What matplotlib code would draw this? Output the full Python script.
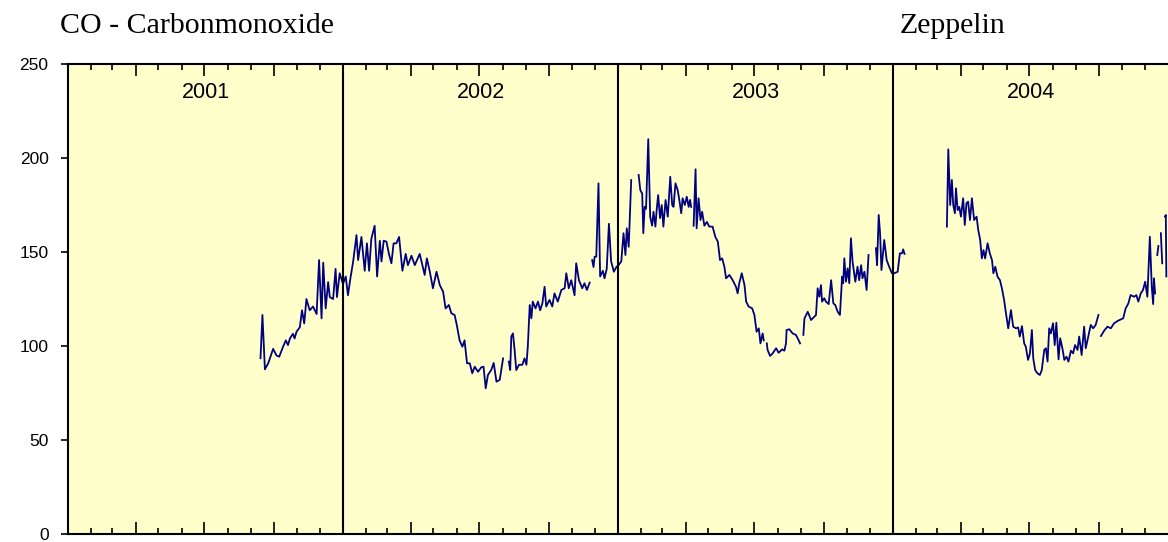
"""CO at Zeppelin, 2001-2004."""

import matplotlib.pyplot as plt
import numpy as np

nan = np.nan

# decimal year of each reading; nan marks a break in the record
t = [2001.700, 2001.707, 2001.716, 2001.728, 2001.740, 2001.746, 2001.758, 2001.768,
     2001.782, 2001.792, 2001.800, 2001.807, 2001.818, 2001.824,
     2001.831, 2001.843, 2001.851, 2001.859, 2001.867, 2001.879, 2001.891, 2001.904,
     2001.913, 2001.922, 2001.928, 2001.937, 2001.946, 2001.952, 2001.964, 2001.973,
     2001.978, 2001.988, 2002.000, 2002.010, 2002.018, 2002.028, 2002.037, 2002.049,
     2002.055, 2002.067, 2002.079, 2002.087, 2002.095, 2002.103, 2002.115, 2002.124,
     2002.134, 2002.140, 2002.148, 2002.158, 2002.167, 2002.176, 2002.184, 2002.194,
     2002.204, 2002.216, 2002.228, 2002.236, 2002.249, 2002.261, 2002.279,
     2002.297, 2002.305, 2002.315, 2002.327, 2002.340, 2002.352, 2002.364, 2002.373,
     2002.385, 2002.394, 2002.406, 2002.414, 2002.424, 2002.434, 2002.442, 2002.451,
     2002.461, 2002.470, 2002.479, 2002.491, 2002.503, 2002.511, 2002.519, 2002.527,
     2002.539, 2002.548, 2002.558, 2002.570, 2002.582,
     nan,
     2002.603, 2002.608, 2002.612, 2002.618, 2002.624, 2002.630, 2002.640, 2002.652,
     2002.660, 2002.667, 2002.672, 2002.679, 2002.685, 2002.690, 2002.700, 2002.709,
     2002.717, 2002.725, 2002.733, 2002.739, 2002.751, 2002.761, 2002.769, 2002.781,
     2002.794, 2002.806, 2002.812, 2002.821, 2002.830, 2002.842, 2002.848, 2002.858,
     2002.870, 2002.878, 2002.887, 2002.897,
     nan,
     2002.906, 2002.911, 2002.915, 2002.921, 2002.929, 2002.935, 2002.945, 2002.951,
     2002.959, 2002.967, 2002.975, 2002.985, 2002.994, 2003.002, 2003.012, 2003.020,
     2003.027, 2003.032, 2003.039, 2003.048,
     nan,
     2003.075, 2003.081, 2003.088, 2003.092, 2003.097, 2003.102, 2003.110, 2003.117,
     2003.124, 2003.129, 2003.136, 2003.141, 2003.146, 2003.153, 2003.159, 2003.165,
     2003.173, 2003.181, 2003.190, 2003.197, 2003.202, 2003.209, 2003.217, 2003.223,
     2003.230, 2003.235, 2003.243, 2003.250, 2003.257, 2003.262, 2003.266,
     nan,
     2003.275, 2003.282, 2003.286, 2003.293, 2003.300, 2003.306, 2003.314, 2003.323,
     2003.332, 2003.344, 2003.354, 2003.363, 2003.371, 2003.379, 2003.387, 2003.393,
     2003.405, 2003.417, 2003.429, 2003.435, 2003.441, 2003.450, 2003.460, 2003.466,
     2003.475, 2003.488, 2003.496, 2003.504, 2003.512, 2003.518, 2003.526, 2003.530,
     nan,
     2003.541, 2003.544, 2003.553, 2003.562, 2003.575, 2003.584, 2003.597, 2003.605,
     2003.611, 2003.613, 2003.623, 2003.635, 2003.647, 2003.657, 2003.662,
     nan,
     2003.674, 2003.678, 2003.690, 2003.702, 2003.714, 2003.720, 2003.726, 2003.732,
     2003.738, 2003.742, 2003.750, 2003.756, 2003.766, 2003.775, 2003.783, 2003.790,
     2003.799, 2003.807, 2003.815, 2003.819, 2003.823, 2003.829, 2003.835, 2003.841,
     2003.847, 2003.853, 2003.863, 2003.871, 2003.877, 2003.884, 2003.889, 2003.896,
     2003.904, 2003.911,
     nan,
     2003.938, 2003.942, 2003.948, 2003.953, 2003.958, 2003.968, 2003.977, 2003.986,
     2003.996, 2004.005, 2004.017, 2004.025, 2004.033, 2004.037, 2004.042,
     nan,
     2004.196, 2004.201, 2004.208, 2004.214, 2004.219, 2004.225, 2004.229, 2004.235,
     2004.241, 2004.247, 2004.255, 2004.261, 2004.267, 2004.273, 2004.280, 2004.287,
     2004.295, 2004.304, 2004.310, 2004.317, 2004.323, 2004.329, 2004.335, 2004.344,
     2004.352, 2004.360, 2004.365, 2004.372, 2004.380, 2004.389, 2004.396, 2004.404,
     2004.410, 2004.419, 2004.429, 2004.437, 2004.447, 2004.455, 2004.461, 2004.469,
     2004.477, 2004.483, 2004.491, 2004.498, 2004.505, 2004.510, 2004.517, 2004.525,
     2004.534, 2004.541, 2004.550, 2004.556, 2004.562, 2004.568, 2004.574, 2004.582,
     2004.588, 2004.594, 2004.602, 2004.608, 2004.616, 2004.623, 2004.631, 2004.638,
     2004.647, 2004.655, 2004.662, 2004.671, 2004.677, 2004.686, 2004.695, 2004.701,
     2004.710, 2004.719, 2004.728, 2004.737, 2004.747,
     nan,
     2004.756, 2004.768, 2004.780, 2004.792, 2004.804, 2004.819, 2004.837, 2004.846,
     2004.856, 2004.864, 2004.877, 2004.885, 2004.892, 2004.901, 2004.909, 2004.917,
     2004.925, 2004.934, 2004.941, 2004.946, 2004.949, 2004.953,
     nan,
     2004.961, 2004.965,
     nan,
     2004.974, 2004.979,
     nan,
     2004.989, 2004.992, 2004.994]

# CO mixing ratio (ppb)
co = [93.5, 116.5, 87.6, 90.8, 96.0, 98.5, 95.0, 94.3,
      99.6, 103.0, 100.5, 104.0, 106.5, 104.0,
      107.6, 110.0, 119.0, 112.0, 125.0, 119.0, 121.0, 117.0,
      145.7, 114.7, 144.3, 120.0, 134.0, 126.0, 125.0, 141.0,
      126.0, 138.7, 133.0, 137.0, 127.0, 137.0, 145.0, 159.0,
      145.7, 158.0, 140.0, 154.6, 140.0, 157.0, 164.0, 137.0,
      156.0, 145.0, 156.0, 155.5, 149.0, 144.0, 154.6, 154.6,
      158.0, 140.0, 149.0, 143.0, 148.0, 143.0, 149.0,
      137.8, 146.6, 140.0, 130.7, 139.5, 132.4, 128.9, 120.0,
      121.8, 117.4, 116.5, 111.0, 103.0, 99.6, 103.0, 90.8,
      90.8, 85.5, 89.0, 86.3, 88.7, 89.0, 77.5, 84.6,
      87.2, 91.0, 81.0, 82.0, 93.4,
      nan,
      91.7, 87.2, 105.0, 106.7, 97.9, 87.2, 90.0, 90.0,
      93.4, 90.0, 99.6, 121.8, 114.7, 123.6, 120.0, 123.6,
      119.0, 122.7, 131.5, 121.0, 124.5, 121.0, 128.0, 123.6,
      129.8, 130.7, 138.7, 130.7, 135.0, 127.0, 144.0, 135.0,
      130.7, 133.4, 129.8, 133.7,
      nan,
      145.7, 142.0, 147.5, 147.5, 186.5, 137.0, 140.0, 136.0,
      141.0, 165.0, 145.0, 139.5, 142.0, 143.0, 145.0, 160.0,
      148.4, 162.6, 152.8, 188.3,
      nan,
      191.0, 183.0, 181.0, 160.0, 174.0, 173.0, 210.0, 168.8,
      164.0, 171.4, 163.5, 173.0, 180.3, 168.0, 175.0, 163.5,
      177.7, 168.8, 190.0, 175.0, 174.0, 186.5, 183.0, 177.7,
      170.6, 178.6, 175.0, 179.4, 174.0, 177.7, 174.0,
      nan,
      164.0, 194.0, 162.6, 178.6, 167.0, 171.4, 164.0, 166.0,
      163.5, 163.5, 158.0, 155.5, 145.7, 146.6, 142.0, 136.0,
      137.8, 135.0, 131.5, 128.0, 133.4, 138.7, 132.4, 123.6,
      121.0, 120.0, 116.5, 107.6, 109.4, 101.4, 106.7, 103.0,
      nan,
      101.4, 97.9, 94.7, 96.0, 98.8, 96.4, 98.2, 97.5,
      101.4, 108.5, 108.9, 106.7, 105.9, 103.0, 101.4,
      nan,
      105.9, 114.7, 118.2, 113.8, 115.6, 116.5, 130.7, 126.2,
      132.4, 123.6, 125.4, 123.6, 122.3, 135.0, 122.7, 121.8,
      118.2, 116.5, 136.9, 133.4, 146.6, 134.2, 141.3, 133.4,
      157.3, 144.8, 134.2, 142.2, 135.0, 143.0, 136.0, 139.5,
      129.8, 148.4,
      nan,
      152.0, 143.0, 169.7, 160.0, 140.4, 156.4, 145.7, 142.2,
      138.7, 138.7, 139.5, 149.3, 149.3, 151.4, 149.0,
      nan,
      163.5, 204.6, 175.0, 188.3, 175.0, 170.6, 183.9, 172.3,
      174.0, 168.8, 178.6, 164.4, 175.9, 176.8, 167.0, 178.6,
      167.0, 168.8, 161.7, 156.4, 146.6, 151.0, 146.6, 154.6,
      149.3, 145.7, 138.7, 142.2, 136.9, 135.0, 130.7, 124.5,
      118.2, 109.4, 119.1, 110.3, 109.4, 109.9, 105.0, 110.6,
      101.4, 99.6, 92.6, 96.1, 108.5, 93.5, 87.2, 85.5,
      84.6, 87.2, 97.9, 98.8, 91.7, 109.4, 106.7, 112.1,
      100.5, 112.4, 92.9, 104.1, 98.8, 92.6, 94.3, 91.7,
      97.5, 96.1, 100.5, 97.9, 105.0, 95.2, 110.3, 98.8,
      105.0, 111.2, 109.4, 111.2, 116.5,
      nan,
      105.3, 108.2, 110.3, 109.4, 112.1, 113.5, 114.7, 120.0,
      122.7, 127.1, 126.2, 127.1, 123.6, 128.0, 129.8, 134.2,
      126.2, 158.1, 131.5, 122.3, 136.0, 128.0,
      nan,
      148.4, 153.2,
      nan,
      160.0, 144.0,
      nan,
      168.8, 169.7, 137.0]

years = [2001, 2002, 2003, 2004]
yticks = [0, 50, 100, 150, 200, 250]
month_start = [0, 31, 59, 90, 120, 151, 181, 212, 243, 273, 304, 334]

plt.rcParams['font.family'] = ['Liberation Sans', 'DejaVu Sans']

fig = plt.figure(figsize=(11.68, 5.42), dpi=100)
ax = fig.add_axes([68 / 1168, 8 / 542, 1100 / 1168, 470 / 542])
ax.set_facecolor('#FFFFCC')

ax.plot(t, co, color='#000080', lw=1.3)

for y in years[1:]:
    ax.axvline(y, color='black', lw=1.5)

for y in years:
    ax.text(y + 0.5, 0.928, str(y), transform=ax.get_xaxis_transform(),
            ha='center', va='baseline', fontsize=15.5)

ax.set_xlim(2001, 2005)
ax.set_ylim(0, 250)

# month ticks, longer at the quarters
minor = [y + d / 365 for y in years for d in month_start[1:]]
major = [y + d / 365 for y in years for d in (90, 181, 273)]
ax.set_xticks(major)
ax.set_xticks(minor, minor=True)
ax.tick_params(axis='x', which='both', direction='in', top=True, bottom=True,
               labelbottom=False, width=1.2, color='black')
ax.tick_params(axis='x', which='major', length=8.5)
ax.tick_params(axis='x', which='minor', length=4.3)

ax.set_yticks(yticks)
ax.tick_params(axis='y', direction='out', length=5, width=1.2, pad=9,
               labelsize=12.5)

for side in ('left', 'top', 'bottom'):
    ax.spines[side].set_linewidth(1.5)
ax.spines['right'].set_visible(False)

fig.text(60 / 1168, 1 - 33 / 542, 'CO - Carbonmonoxide', family='Liberation Serif',
         fontsize=21.5, va='baseline')
fig.text(900 / 1168, 1 - 33 / 542, 'Zeppelin', family='Liberation Serif',
         fontsize=21.5, va='baseline')

fig.savefig('out.png', dpi=100)
